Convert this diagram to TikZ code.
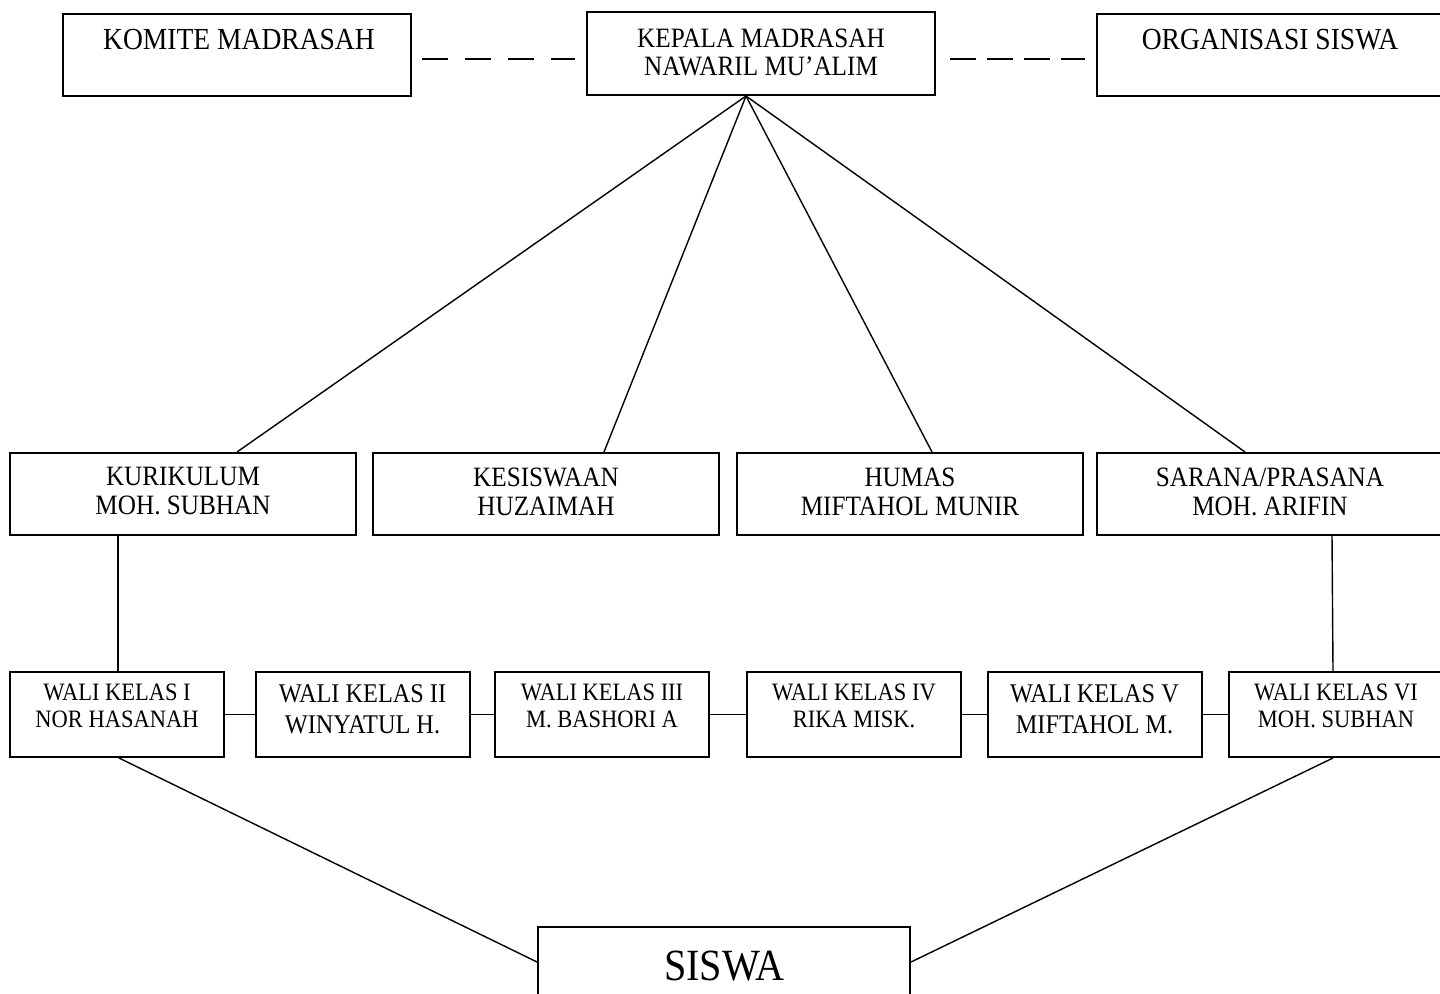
\documentclass[tikz,border=0pt]{standalone}
\usepackage{fontspec}
\setmainfont{Liberation Serif}[FakeStretch=0.9]
\usetikzlibrary{calc}
\begin{document}
\begin{tikzpicture}[x=0.5pt,y=-0.5pt,
  box/.style={draw,line width=1pt,inner sep=0pt},
  topbox/.style={box,minimum width=174pt,minimum height=41pt},
  midbox/.style={box,minimum width=173pt,minimum height=41pt},
  walibox/.style={box,minimum width=107pt,minimum height=42.5pt},
  con/.style={line width=0.7pt},
  toptxt/.style={align=center,inner sep=0pt,font=\fontsize{14pt}{14pt}\selectfont},
  sidetxt/.style={align=center,inner sep=0pt,font=\fontsize{15.3pt}{15pt}\selectfont},
  midtxt/.style={align=center,inner sep=0pt,font=\fontsize{14pt}{14.5pt}\selectfont},
  walis/.style={align=center,inner sep=0pt,font=\fontsize{12.5pt}{13.5pt}\selectfont},
  walib/.style={align=center,inner sep=0pt,font=\fontsize{13.5pt}{15.5pt}\selectfont}
]
\useasboundingbox (0,0) rectangle (1440,994);
\clip (0,0) rectangle (1440,994);
\fill[white] (0,0) rectangle (1440,994);

% top row
\node[topbox] (kom) at (237,55) {};
\node[topbox,minimum height=41.5pt] (kep) at (761,53.5) {};
\node[topbox] (org) at (1271,55) {};
\node[sidetxt] (komt) at (239,40) {KOMITE MADRASAH};
\node[toptxt] (kept) at (761,52) {KEPALA MADRASAH\\NAWARIL MU'ALIM};
\node[sidetxt] (orgt) at (1270,40) {ORGANISASI SISWA};

\draw[con,dash pattern=on 13pt off 8.5pt] ($(kom.east)+(10,4)$) -- ($(kep.west)+(-11,5.5)$);
\draw[con,dash pattern=on 13pt off 5.5pt] ($(kep.east)+(14,5.5)$) -- ($(org.west)+(-11,4)$);

% second row
\node[midbox] (kur) at (183,494) {};
\node[midbox] (kes) at (546,494) {};
\node[midbox] (hum) at (910,494) {};
\node[midbox] (sar) at (1270,494) {};
\node[midtxt] (kurt) at (183,491.5) {KURIKULUM\\MOH. SUBHAN};
\node[midtxt] (kest) at (546,491.5) {KESISWAAN\\HUZAIMAH};
\node[midtxt] (humt) at (910,491.5) {HUMAS\\MIFTAHOL MUNIR};
\node[midtxt] (sart) at (1270,491.5) {SARANA/PRASANA\\MOH. ARIFIN};

\coordinate (apex) at ($(kep.south west)+(160,0)$);
\draw[con] (apex) -- ($(kur.north west)+(228,0)$);
\draw[con] (apex) -- ($(kes.north west)+(232,0)$);
\draw[con] (apex) -- ($(hum.north west)+(196,0)$);
\draw[con] (apex) -- ($(sar.north west)+(149,0)$);

% wali row
\node[walibox] (w1) at (117,714.5) {};
\node[walibox] (w2) at (362.5,714.5) {};
\node[walibox] (w3) at (602,714.5) {};
\node[walibox] (w4) at (854,714.5) {};
\node[walibox] (w5) at (1094.5,714.5) {};
\node[walibox] (w6) at (1336,714.5) {};
\node[walis] (w1t) at (117,705.5) {WALI KELAS I\\NOR HASANAH};
\node[walib] (w2t) at (362.5,709.5) {WALI KELAS II\\WINYATUL H.};
\node[walis] (w3t) at (602,705.5) {WALI KELAS III\\M. BASHORI A};
\node[walis] (w4t) at (854,705.5) {WALI KELAS IV\\RIKA MISK.};
\node[walib] (w5t) at (1094.5,709.5) {WALI KELAS V\\MIFTAHOL M.};
\node[walis] (w6t) at (1336,705.5) {WALI KELAS VI\\MOH. SUBHAN};

\draw[con] ($(kur.south west)+(109,0)$) -- ($(w1.north west)+(109,0)$);
\draw[con] ($(sar.south west)+(236,0)$) -- ($(w6.north west)+(105,0)$);
\draw[con] (w1.east) -- (w2.west);
\draw[con] (w2.east) -- (w3.west);
\draw[con] (w3.east) -- (w4.west);
\draw[con] (w4.east) -- (w5.west);
\draw[con] (w5.east) -- (w6.west);

% siswa
\node[box,minimum width=186pt,minimum height=41pt] (sis) at (724,968) {};
\node[inner sep=0pt,font=\fontsize{22.3pt}{22pt}\selectfont] (sist) at (724.5,966) {SISWA};
\draw[con] ($(w1.south west)+(110,0)$) -- ($(sis.north west)+(0,36)$);
\draw[con] ($(w6.south west)+(105,0)$) -- ($(sis.north east)+(0,36)$);
\end{tikzpicture}
\end{document}
